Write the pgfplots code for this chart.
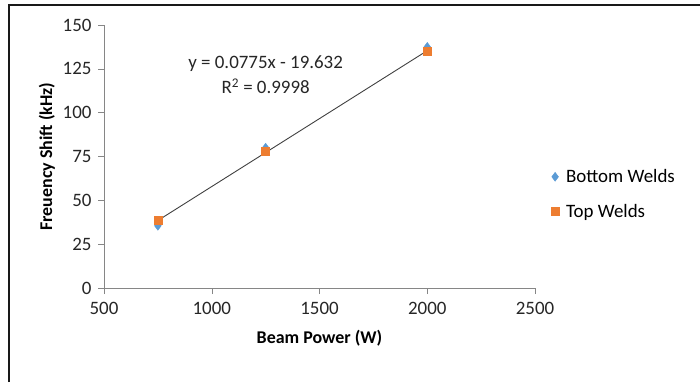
\documentclass[border=0pt]{standalone}
\usepackage{pgfplots}
\pgfplotsset{compat=1.18}
\usepackage{fontspec}
\setmainfont{Carlito}
\definecolor{bluew}{RGB}{91,155,213}
\definecolor{orangew}{RGB}{237,125,49}
\definecolor{axgray}{RGB}{134,134,134}
\begin{document}
\begin{tikzpicture}[x=1bp,y=1bp]
\path[use as bounding box] (0,0) rectangle (700,382);
\draw[line width=2bp,black!90] (9,0) -- (9,377) -- (700,377);
\begin{axis}[
  at={(104bp,94bp)}, anchor=south west,
  scale only axis, width=431bp, height=263bp,
  xmin=500, xmax=2500, ymin=0, ymax=150,
  xtick={500,1000,...,2500}, ytick={0,25,...,150},
  axis x line=bottom, axis y line=left,
  axis line style={axgray, -}, 
  tick style={axgray, thin},
  major tick length=6bp,
  tick align=outside,
  x tick label style={yshift=-5bp},
  y tick label style={xshift=-3bp},
  tick label style={font=\fontsize{19}{22}\selectfont, black!85},
  /pgf/number format/assume math mode=true,
  /pgf/number format/1000 sep={},
  xlabel={\textbf{Beam Power (W)}},
  ylabel={\textbf{Freuency Shift (kHz)}},
  label style={font=\fontsize{18}{21}\selectfont},
  xlabel style={yshift=-8bp},
  ylabel style={yshift=1bp},
  legend style={at={(1.03,0.357)}, anchor=west, draw=none, fill=none,
    font=\fontsize{19}{22}\selectfont, row sep=16bp, legend cell align=left,
    /tikz/every odd column/.append style={column sep=5bp}},
  legend image code/.code={\draw[#1] plot coordinates {(0bp,0bp)};},
  clip=false,
]
\addplot[only marks, mark=diamond*, mark size=4.5bp, color=bluew] coordinates {
  (750,35.5) (1250,80) (2000,137.5)};
\addlegendentry{Bottom Welds}
\addplot[only marks, mark=square*, mark size=4bp, color=orangew] coordinates {
  (750,38.5) (1250,78) (2000,135)};
\addlegendentry{Top Welds}
\addplot[black!75, line width=0.9bp, forget plot] coordinates {
  (750,38.49) (2000,135.37)};
\node[font=\fontsize{19}{25}\selectfont, align=center, black!85] at (axis cs:1250,121.5)
  {y = 0.0775x - 19.632\\R\textsuperscript{2} = 0.9998};
\end{axis}
\end{tikzpicture}
\end{document}
